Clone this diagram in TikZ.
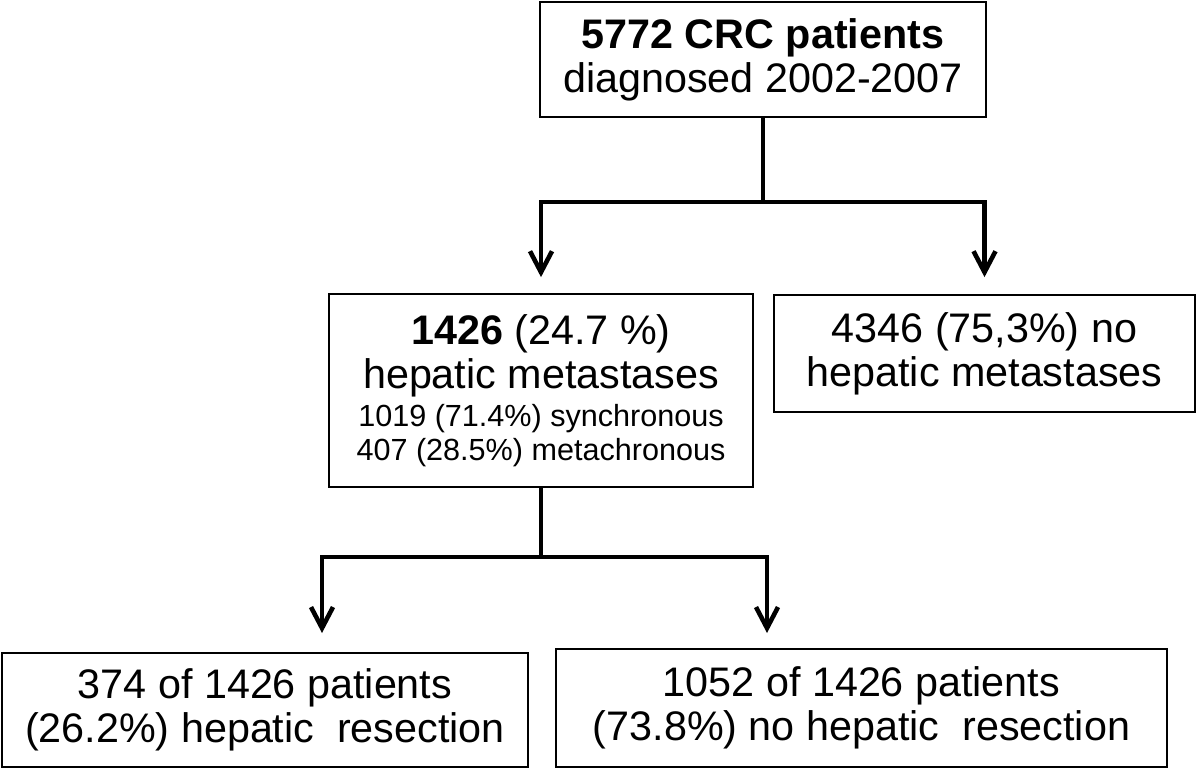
\documentclass[tikz,border=0pt]{standalone}
\usepackage{fontspec}
\setmainfont{Liberation Sans}
\usetikzlibrary{arrows.meta}

\begin{document}
\begin{tikzpicture}[x=1cm,y=1cm,
    box/.style={draw, line width=1pt, inner sep=0pt, align=center,
      font=\fontsize{23.5}{25}\selectfont},
    link/.style={line width=2.6pt},
    arr/.style={link, -{Straight Barb[length=0.42cm,width=0.44cm,line width=2.6pt]}}]
  \useasboundingbox (0,0) rectangle (24,15.44);
  \node[box, minimum width=8.92cm, minimum height=2.3cm] (crc) at (15.26,14.25)
    {\textbf{5772 CRC patients}\\diagnosed 2002-2007};
  \node[box, minimum width=8.48cm, minimum height=3.86cm] (hm) at (10.82,7.63)
    {\textbf{1426} (24.7 \%)\\hepatic metastases\\[-3pt]
     {\fontsize{17.4}{20}\selectfont 1019 (71.4\%) synchronous}\\[-6pt]
     {\fontsize{17.4}{20}\selectfont 407 (28.5\%) metachronous}};
  \node[box, minimum width=8.42cm, minimum height=2.34cm] (nohm) at (19.69,8.37)
    {4346 (75,3\%) no\\hepatic metastases};
  \node[box, minimum width=10.52cm, minimum height=2.28cm] (res) at (5.30,1.24)
    {374 of 1426 patients\\(26.2\%) hepatic\ \ resection};
  \node[box, minimum width=12.22cm, minimum height=2.36cm] (nores) at (17.23,1.28)
    {1052 of 1426 patients\\(73.8\%) no hepatic\ \ resection};
  % first split
  \coordinate (s1) at (15.26,11.4);
  \draw[link] (crc.south) -- (s1);
  \draw[arr] (s1) -| ([yshift=0.32cm]hm.north);
  \draw[arr] (s1) -| ([yshift=0.34cm]nohm.north);
  % second split
  \coordinate (s2) at (10.82,4.3);
  \coordinate (t3) at (6.44,2.78);
  \coordinate (t4) at (15.34,2.78);
  \draw[link] (hm.south) -- (s2);
  \draw[arr] (s2) -| (t3);
  \draw[arr] (s2) -| (t4);
\end{tikzpicture}
\end{document}
